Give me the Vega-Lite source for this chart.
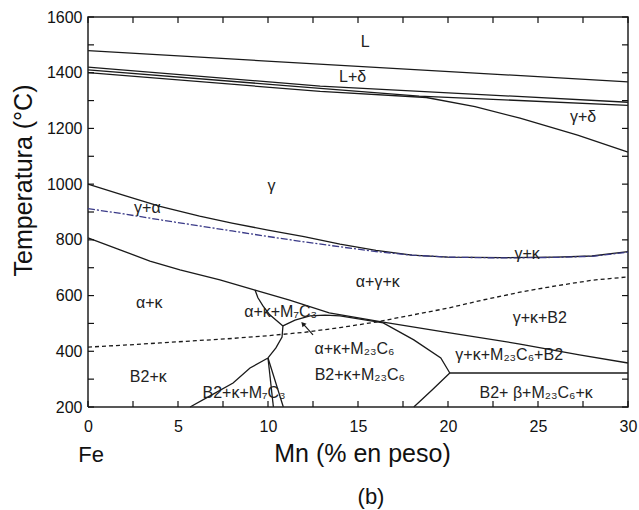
{
  "$schema": "https://vega.github.io/schema/vega-lite/v6.json",
  "width": 540,
  "height": 390,
  "autosize": "none",
  "padding": {"left": 88, "top": 17, "right": 11, "bottom": 103},
  "background": "white",
  "config": {"view": {"stroke": null}, "font": "Liberation Sans"},
  "title": {"text": "(b)", "orient": "bottom", "anchor": "middle", "dx": 13, "offset": 21, "fontSize": 22, "fontWeight": "normal", "font": "Liberation Sans", "color": "#111"},
  "datasets": {
    "lines": [
      {"id": "liq", "o": 0, "x": 0, "T": 1479}, {"id": "liq", "o": 1, "x": 30, "T": 1367},
      {"id": "d1", "o": 0, "x": 0, "T": 1420}, {"id": "d1", "o": 1, "x": 12.9, "T": 1352}, {"id": "d1", "o": 2, "x": 30, "T": 1294},
      {"id": "d2", "o": 0, "x": 0, "T": 1410}, {"id": "d2", "o": 1, "x": 12.9, "T": 1344}, {"id": "d2", "o": 2, "x": 18.4, "T": 1316}, {"id": "d2", "o": 3, "x": 30, "T": 1283},
      {"id": "gs", "o": 0, "x": 0, "T": 1400}, {"id": "gs", "o": 1, "x": 12.9, "T": 1333}, {"id": "gs", "o": 2, "x": 18.8, "T": 1311}, {"id": "gs", "o": 3, "x": 21.5, "T": 1278}, {"id": "gs", "o": 4, "x": 24, "T": 1237}, {"id": "gs", "o": 5, "x": 27.2, "T": 1176}, {"id": "gs", "o": 6, "x": 30, "T": 1115},
      {"id": "ga", "o": 0, "x": 0, "T": 1000}, {"id": "ga", "o": 1, "x": 2, "T": 960}, {"id": "ga", "o": 2, "x": 4, "T": 920}, {"id": "ga", "o": 3, "x": 6.2, "T": 885}, {"id": "ga", "o": 4, "x": 8, "T": 860}, {"id": "ga", "o": 5, "x": 10, "T": 835}, {"id": "ga", "o": 6, "x": 12, "T": 812}, {"id": "ga", "o": 7, "x": 14, "T": 785}, {"id": "ga", "o": 8, "x": 16, "T": 762}, {"id": "ga", "o": 9, "x": 18, "T": 745}, {"id": "ga", "o": 10, "x": 20, "T": 738}, {"id": "ga", "o": 11, "x": 23, "T": 736}, {"id": "ga", "o": 12, "x": 26, "T": 738}, {"id": "ga", "o": 13, "x": 28, "T": 742}, {"id": "ga", "o": 14, "x": 30, "T": 758},
      {"id": "main", "o": 0, "x": 0, "T": 807}, {"id": "main", "o": 1, "x": 1.78, "T": 764}, {"id": "main", "o": 2, "x": 3.44, "T": 724}, {"id": "main", "o": 3, "x": 5.11, "T": 692}, {"id": "main", "o": 4, "x": 7.33, "T": 656}, {"id": "main", "o": 5, "x": 9.28, "T": 620}, {"id": "main", "o": 6, "x": 11.2, "T": 584}, {"id": "main", "o": 7, "x": 13.4, "T": 538}, {"id": "main", "o": 8, "x": 16.4, "T": 505}, {"id": "main", "o": 9, "x": 20.1, "T": 466}, {"id": "main", "o": 10, "x": 24, "T": 426}, {"id": "main", "o": 11, "x": 27.3, "T": 387}, {"id": "main", "o": 12, "x": 30, "T": 358},
      {"id": "loopL", "o": 0, "x": 9.28, "T": 620}, {"id": "loopL", "o": 1, "x": 9.44, "T": 592}, {"id": "loopL", "o": 2, "x": 9.72, "T": 563}, {"id": "loopL", "o": 3, "x": 10.1, "T": 531}, {"id": "loopL", "o": 4, "x": 10.83, "T": 491},
      {"id": "loopB", "o": 0, "x": 10.83, "T": 491}, {"id": "loopB", "o": 1, "x": 11.5, "T": 512}, {"id": "loopB", "o": 2, "x": 12.33, "T": 527}, {"id": "loopB", "o": 3, "x": 13.17, "T": 530}, {"id": "loopB", "o": 4, "x": 14, "T": 527}, {"id": "loopB", "o": 5, "x": 16.4, "T": 502}, {"id": "loopB", "o": 6, "x": 18.1, "T": 441}, {"id": "loopB", "o": 7, "x": 19.6, "T": 376}, {"id": "loopB", "o": 8, "x": 20.1, "T": 322},
      {"id": "down", "o": 0, "x": 10.83, "T": 491}, {"id": "down", "o": 1, "x": 10.78, "T": 451}, {"id": "down", "o": 2, "x": 10.44, "T": 412}, {"id": "down", "o": 3, "x": 10, "T": 376},
      {"id": "b2k", "o": 0, "x": 10, "T": 376}, {"id": "b2k", "o": 1, "x": 9, "T": 340}, {"id": "b2k", "o": 2, "x": 8.06, "T": 286}, {"id": "b2k", "o": 3, "x": 6.78, "T": 240}, {"id": "b2k", "o": 4, "x": 5.67, "T": 200},
      {"id": "v1", "o": 0, "x": 10, "T": 376}, {"id": "v1", "o": 1, "x": 10.3, "T": 200},
      {"id": "v2", "o": 0, "x": 10, "T": 376}, {"id": "v2", "o": 1, "x": 10.85, "T": 200},
      {"id": "h", "o": 0, "x": 20.1, "T": 322}, {"id": "h", "o": 1, "x": 30, "T": 322},
      {"id": "diag", "o": 0, "x": 20.1, "T": 322}, {"id": "diag", "o": 1, "x": 19.1, "T": 260}, {"id": "diag", "o": 2, "x": 18.1, "T": 200}
    ],
    "frame": [
      {"o": 0, "x": 0, "T": 200}, {"o": 1, "x": 30, "T": 200}, {"o": 2, "x": 30, "T": 1600}, {"o": 3, "x": 0, "T": 1600}, {"o": 4, "x": 0, "T": 200}
    ],
    "dashed": [
      {"x": 0, "T": 415}, {"x": 2, "T": 422}, {"x": 4, "T": 430}, {"x": 6, "T": 438}, {"x": 8, "T": 446}, {"x": 10, "T": 456}, {"x": 12, "T": 468}, {"x": 14, "T": 485}, {"x": 16, "T": 505}, {"x": 18, "T": 530}, {"x": 20, "T": 555}, {"x": 22, "T": 585}, {"x": 24, "T": 612}, {"x": 26, "T": 635}, {"x": 28, "T": 655}, {"x": 30, "T": 667}
    ],
    "dashdot": [
      {"x": 0, "T": 912}, {"x": 2, "T": 893}, {"x": 4, "T": 872}, {"x": 6, "T": 852}, {"x": 8, "T": 832}, {"x": 10, "T": 812}, {"x": 12, "T": 793}, {"x": 14, "T": 775}, {"x": 16, "T": 758}, {"x": 18, "T": 745}, {"x": 20, "T": 738}, {"x": 23, "T": 735}, {"x": 26, "T": 737}, {"x": 28, "T": 741}, {"x": 30, "T": 756}
    ],
    "labels": [
      {"t": "L", "x": 15.4, "T": 1510},
      {"t": "L+δ", "x": 14.7, "T": 1385},
      {"t": "γ+δ", "x": 27.5, "T": 1241},
      {"t": "γ", "x": 10.2, "T": 993},
      {"t": "γ+α", "x": 3.3, "T": 915},
      {"t": "γ+κ", "x": 24.4, "T": 748},
      {"t": "α+γ+κ", "x": 16.1, "T": 649},
      {"t": "α+κ", "x": 3.4, "T": 573},
      {"t": "α+κ+M₇C₃", "x": 10.7, "T": 541},
      {"t": "γ+κ+B2", "x": 25.1, "T": 520},
      {"t": "α+κ+M₂₃C₆", "x": 14.8, "T": 410},
      {"t": "B2+κ+M₂₃C₆", "x": 15.1, "T": 315},
      {"t": "γ+κ+M₂₃C₆+B2", "x": 23.4, "T": 387},
      {"t": "B2+ β+M₂₃C₆+κ", "x": 24.9, "T": 250},
      {"t": "B2+κ", "x": 3.35, "T": 308},
      {"t": "B2+κ+M₇C₃", "x": 8.67, "T": 250}
    ],
    "arrow": [
      {"x": 12.5, "T": 459, "x2": 11.94, "T2": 499}
    ],
    "fe": [
      {"t": "Fe", "x": 0.17, "T": 28}
    ],
    "xticks": [
      {"v": 0}, {"v": 2.5}, {"v": 5}, {"v": 7.5}, {"v": 10}, {"v": 12.5}, {"v": 15}, {"v": 17.5}, {"v": 20}, {"v": 22.5}, {"v": 25}, {"v": 27.5}, {"v": 30}
    ],
    "yticks": [
      {"v": 200}, {"v": 300}, {"v": 400}, {"v": 500}, {"v": 600}, {"v": 700}, {"v": 800}, {"v": 900}, {"v": 1000}, {"v": 1100}, {"v": 1200}, {"v": 1300}, {"v": 1400}, {"v": 1500}, {"v": 1600}
    ]
  },
  "layer": [
    {
      "data": {"name": "lines"},
      "mark": {"type": "line", "color": "#1a1a1a", "strokeWidth": 1.3},
      "encoding": {
        "x": {"field": "x", "type": "quantitative", "scale": {"domain": [0, 30], "nice": false},
          "axis": {"orient": "bottom", "values": [0, 5, 10, 15, 20, 25, 30],
            "ticks": false, "grid": false, "domain": false,
            "labelFontSize": 16, "labelColor": "#111", "labelPadding": 11, "labelFlush": false, "labelOverlap": false,
            "title": "Mn (% en peso)", "titleFontSize": 25, "titleFontWeight": "normal", "titleColor": "#111",
            "titleX": 274, "titleY": 46, "titleBaseline": "middle"}},
        "y": {"field": "T", "type": "quantitative", "scale": {"domain": [200, 1600], "nice": false},
          "axis": {"orient": "left", "values": [200, 400, 600, 800, 1000, 1200, 1400, 1600],
            "format": "d", "ticks": false, "grid": false, "domain": false,
            "labelFontSize": 16, "labelColor": "#111", "labelPadding": 6, "labelFlush": false, "labelOverlap": false,
            "title": "Temperatura (°C)", "titleFontSize": 25, "titleFontWeight": "normal", "titleColor": "#111",
            "titleX": -65, "titleY": 163, "titleBaseline": "middle", "titleAlign": "center", "titleAngle": -90}},
        "detail": {"field": "id"},
        "order": {"field": "o"}
      }
    },
    {
      "data": {"name": "frame"},
      "mark": {"type": "line", "color": "#222", "strokeWidth": 1.5, "clip": false},
      "encoding": {
        "x": {"field": "x", "type": "quantitative"},
        "y": {"field": "T", "type": "quantitative"},
        "order": {"field": "o"}
      }
    },
    {
      "data": {"name": "dashed"},
      "mark": {"type": "line", "color": "#1a1a1a", "strokeWidth": 1.3, "strokeDash": [4, 3]},
      "encoding": {
        "x": {"field": "x", "type": "quantitative"},
        "y": {"field": "T", "type": "quantitative"},
        "order": {"field": "x"}
      }
    },
    {
      "data": {"name": "dashdot"},
      "mark": {"type": "line", "color": "#3a3a88", "strokeWidth": 1.3, "strokeDash": [7, 2, 2, 2]},
      "encoding": {
        "x": {"field": "x", "type": "quantitative"},
        "y": {"field": "T", "type": "quantitative"},
        "order": {"field": "x"}
      }
    },
    {
      "data": {"name": "xticks"},
      "mark": {"type": "tick", "orient": "vertical", "color": "#111", "size": 6, "thickness": 1.2, "yOffset": -3, "opacity": 1},
      "encoding": {
        "x": {"field": "v", "type": "quantitative"},
        "y": {"datum": 200, "type": "quantitative"}
      }
    },
    {
      "data": {"name": "xticks"},
      "mark": {"type": "tick", "orient": "vertical", "color": "#111", "size": 6, "thickness": 1.2, "yOffset": 3, "opacity": 1},
      "encoding": {
        "x": {"field": "v", "type": "quantitative"},
        "y": {"datum": 1600, "type": "quantitative"}
      }
    },
    {
      "data": {"name": "yticks"},
      "mark": {"type": "tick", "orient": "horizontal", "color": "#111", "size": 6, "thickness": 1.2, "xOffset": 3, "opacity": 1},
      "encoding": {
        "y": {"field": "v", "type": "quantitative"},
        "x": {"datum": 0, "type": "quantitative"}
      }
    },
    {
      "data": {"name": "yticks"},
      "mark": {"type": "tick", "orient": "horizontal", "color": "#111", "size": 6, "thickness": 1.2, "xOffset": -3, "opacity": 1},
      "encoding": {
        "y": {"field": "v", "type": "quantitative"},
        "x": {"datum": 30, "type": "quantitative"}
      }
    },
    {
      "data": {"name": "labels"},
      "mark": {"type": "text", "fontSize": 16, "font": "Liberation Sans", "color": "#222", "align": "center", "baseline": "middle"},
      "encoding": {
        "x": {"field": "x", "type": "quantitative"},
        "y": {"field": "T", "type": "quantitative"},
        "text": {"field": "t"}
      }
    },
    {
      "data": {"name": "arrow"},
      "mark": {"type": "rule", "color": "#1a1a1a", "strokeWidth": 1.2},
      "encoding": {
        "x": {"field": "x", "type": "quantitative"},
        "y": {"field": "T", "type": "quantitative"},
        "x2": {"field": "x2"},
        "y2": {"field": "T2"}
      }
    },
    {
      "data": {"name": "arrow"},
      "mark": {"type": "point", "shape": "triangle-up", "filled": true, "color": "#1a1a1a", "size": 30, "angle": 318, "opacity": 1},
      "encoding": {
        "x": {"field": "x2", "type": "quantitative"},
        "y": {"field": "T2", "type": "quantitative"}
      }
    },
    {
      "data": {"name": "fe"},
      "mark": {"type": "text", "fontSize": 22, "font": "Liberation Sans", "color": "#111", "align": "center", "baseline": "middle", "clip": false},
      "encoding": {
        "x": {"field": "x", "type": "quantitative"},
        "y": {"field": "T", "type": "quantitative"},
        "text": {"field": "t"}
      }
    }
  ]
}
